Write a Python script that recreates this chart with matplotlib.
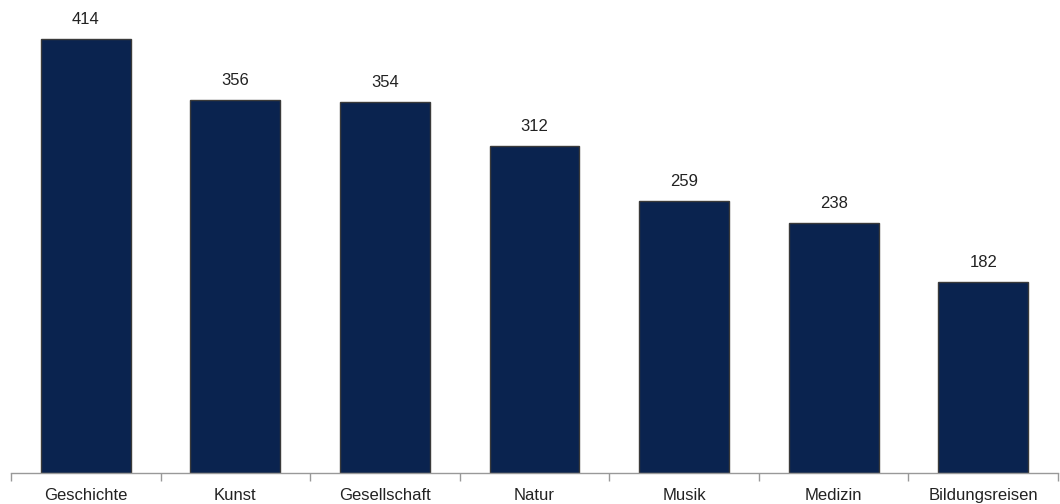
import matplotlib
matplotlib.use("Agg")
import matplotlib.pyplot as plt
import numpy as np

categories = ["Geschichte", "Kunst", "Gesellschaft", "Natur", "Musik", "Medizin", "Bildungsreisen"]
values = [414, 356, 354, 312, 259, 238, 182]

plt.rcParams['font.family'] = ['Liberation Sans Narrow', 'Liberation Sans', 'DejaVu Sans']

fig = plt.figure(figsize=(10.60, 5.04), dpi=100)
ax = fig.add_axes([11/1060, 31/504, 1047/1060, 473/504])
x = np.arange(len(categories))
bars = ax.bar(x, values, width=0.6, color='#0a234f', edgecolor='#3a3a3a', linewidth=1.0, zorder=2)
ax.set_xlim(-0.5, len(categories) - 0.5)
ax.set_ylim(0, 451)

for xi, v in zip(x, values):
    ax.annotate(str(v), (xi, v), xytext=(0, 12), textcoords='offset pixels',
                ha='center', va='bottom', fontsize=12, color='#222222')

for s in ['top', 'right', 'left']:
    ax.spines[s].set_visible(False)
ax.spines['bottom'].set_color('#999999')
ax.spines['bottom'].set_linewidth(1.0)
ax.set_yticks([])
ax.set_xticks(np.arange(-0.5, len(categories), 1.0))
ax.set_xticklabels([])
ax.set_xticks(x, minor=True)
ax.set_xticklabels(categories, minor=True, fontsize=12, color='#222222')
ax.tick_params(axis='x', which='major', length=6, color='#999999', width=1.0, direction='out')
ax.tick_params(axis='x', which='minor', length=0, pad=11)

fig.savefig('out.png', dpi=100)
